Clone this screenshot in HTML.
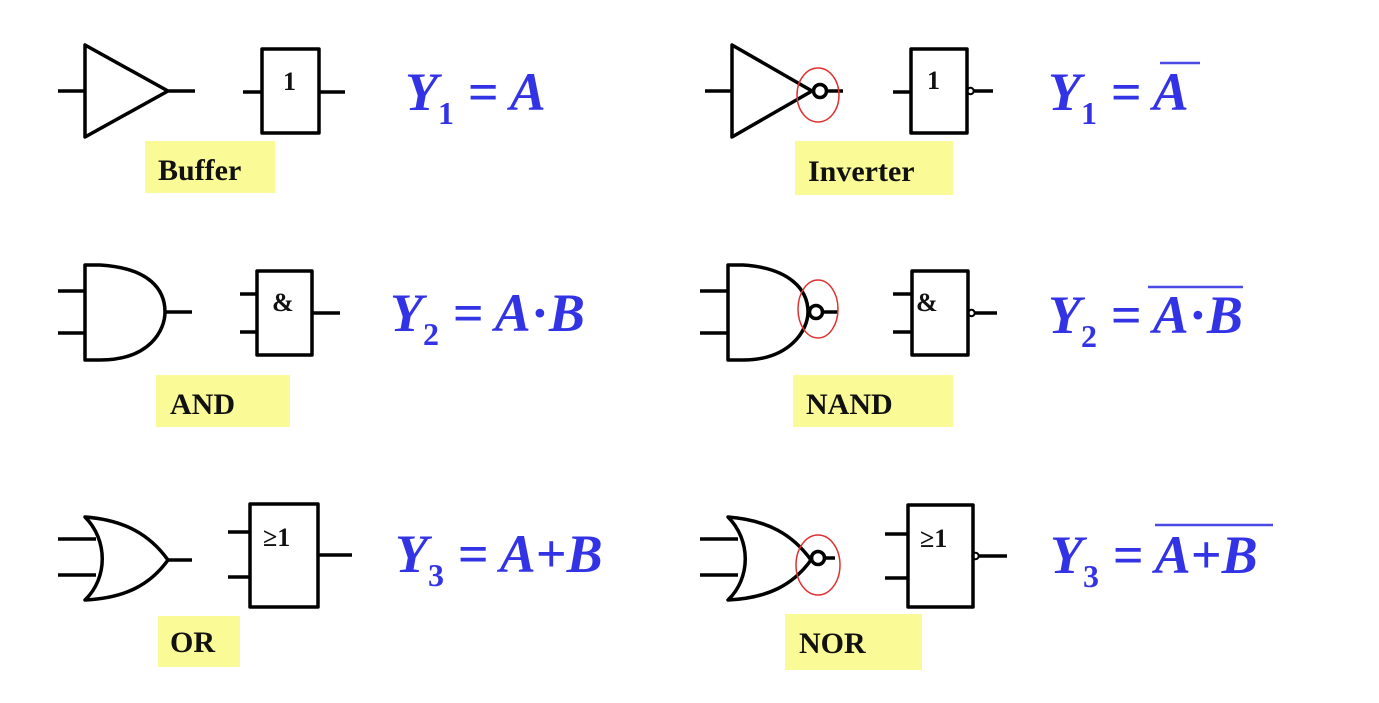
<!DOCTYPE html>
<html><head><style>body{margin:0;background:#fff}svg{display:block}</style></head><body>
<svg width="1379" height="703" viewBox="0 0 1379 703" xmlns="http://www.w3.org/2000/svg">
<rect width="1379" height="703" fill="#fff"/>
<g fill="#fafa96">
<rect x="145" y="141" width="130" height="52"/>
<rect x="795" y="141" width="158" height="54"/>
<rect x="156" y="375" width="134" height="52"/>
<rect x="793" y="375" width="160" height="52"/>
<rect x="158" y="616" width="82" height="51"/>
<rect x="785" y="614" width="137" height="56"/>
</g>
<g font-family="Liberation Serif, serif" font-weight="bold" font-size="30" fill="#111">
<text x="158" y="180">Buffer</text>
<text x="808" y="181">Inverter</text>
<text x="170" y="414">AND</text>
<text x="806" y="414">NAND</text>
<text x="170" y="652">OR</text>
<text x="799" y="653">NOR</text>
</g>
<g stroke="#000" stroke-width="3.5" fill="none" stroke-linejoin="round">
<path d="M58 91H85M85 45V137L168 91Z M168 91H195"/>
<rect x="262" y="49" width="57" height="84"/><path d="M243 92H262M319 92H345"/>
<path d="M705 91H732M732 45V137L812 91Z"/><circle cx="820" cy="91" r="6.5"/><path d="M827 91H843"/>
<rect x="911" y="49" width="56" height="84"/><path d="M893 92H911M974 91H993"/>
<circle cx="970.5" cy="91" r="3.2" stroke-width="2"/>
<path d="M58 291H85M58 333H85M85 265V360H100C150 360 165 330 165 312C165 290 150 268 100 265Z M165 312H192"/>
<rect x="257" y="271" width="55" height="84"/><path d="M240 294H257M240 332H257M312 313H340"/>
<path d="M700 291H728M700 333H728M728 265V360H743C790 360 808 330 808 312C808 290 790 268 743 265Z"/><circle cx="816" cy="312" r="6.5"/><path d="M823 312H838"/>
<rect x="912" y="271" width="56" height="84"/><path d="M893 294H912M893 332H912M975 313H997"/>
<circle cx="971.5" cy="313" r="3.2" stroke-width="2"/>
<path d="M58 539H96M58 575H96M85 517C108 540 108 578 85 600C125 598 150 585 168 560C150 535 125 520 85 517Z M168 560H192"/>
<rect x="250" y="504" width="68" height="103"/><path d="M228 532H250M228 577H250M318 555H352"/>
<path d="M700 539H738M700 575H738M728 517C751 540 751 578 728 600C768 598 793 585 811 560C793 535 768 520 728 517Z"/><circle cx="818" cy="558" r="6.5"/><path d="M825 558H835"/>
<rect x="908" y="505" width="65" height="102"/><path d="M885 534H908M885 578H908M979 556H1007"/>
<circle cx="975.5" cy="556" r="3.2" stroke-width="2"/>
</g>
<g stroke="#e03030" stroke-width="1.5" fill="none">
<ellipse cx="818" cy="95" rx="21" ry="27"/>
<ellipse cx="818" cy="309" rx="20" ry="29"/>
<ellipse cx="818" cy="565" rx="22" ry="30"/>
</g>
<g font-family="Liberation Serif, serif" font-weight="bold" font-size="26" fill="#111">
<text x="283" y="90">1</text>
<text x="927" y="89">1</text>
<text x="272" y="311">&amp;</text>
<text x="916" y="311">&amp;</text>
<text x="263" y="546">≥1</text>
<text x="920" y="547">≥1</text>
</g>
<g font-family="Liberation Serif, serif" font-weight="bold" fill="#3333e6" font-size="54">
<text x="405" y="110" font-style="italic">Y<tspan font-size="32" font-style="normal" dy="14">1</tspan><tspan dy="-14"> = </tspan>A</text>
<text x="1048" y="110" font-style="italic">Y<tspan font-size="32" font-style="normal" dy="14">1</tspan><tspan dy="-14"> = </tspan>A</text>
<text x="390" y="331" font-style="italic">Y<tspan font-size="32" font-style="normal" dy="14">2</tspan><tspan dy="-14"> = </tspan>A<tspan font-style="normal">·</tspan>B</text>
<text x="1048" y="333" font-style="italic">Y<tspan font-size="32" font-style="normal" dy="14">2</tspan><tspan dy="-14"> = </tspan>A<tspan font-style="normal">·</tspan>B</text>
<text x="395" y="572" font-style="italic">Y<tspan font-size="32" font-style="normal" dy="14">3</tspan><tspan dy="-14"> = </tspan>A<tspan font-style="normal">+</tspan>B</text>
<text x="1050" y="573" font-style="italic">Y<tspan font-size="32" font-style="normal" dy="14">3</tspan><tspan dy="-14"> = </tspan>A<tspan font-style="normal">+</tspan>B</text>
</g>
<g stroke="#4a4ae6" stroke-width="2.5">
<path d="M1160 63H1200M1148 287H1243M1155 525H1273"/>
</g>
</svg>
</body></html>
